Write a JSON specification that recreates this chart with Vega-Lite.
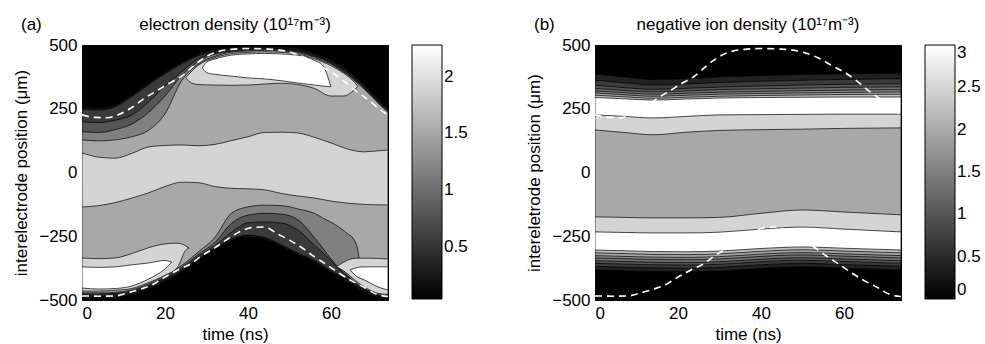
{
"$schema":"https://vega.github.io/schema/vega-lite/v6.json",
"background":"white",
"padding":{"left":12,"top":15,"right":0,"bottom":0},
"datasets":{
"aa":[
{"p":"a01","v":0.25,"t":0,"lo":-492,"hi":255},{"p":"a01","v":0.25,"t":4,"lo":-492,"hi":252},{"p":"a01","v":0.25,"t":8,"lo":-490,"hi":265},{"p":"a01","v":0.25,"t":12,"lo":-480,"hi":304},{"p":"a01","v":0.25,"t":16,"lo":-457,"hi":351},{"p":"a01","v":0.25,"t":20,"lo":-428,"hi":394},{"p":"a01","v":0.25,"t":24,"lo":-392,"hi":433},{"p":"a01","v":0.25,"t":28,"lo":-345,"hi":465},{"p":"a01","v":0.25,"t":32,"lo":-305,"hi":482},{"p":"a01","v":0.25,"t":36,"lo":-268,"hi":490},{"p":"a01","v":0.25,"t":40,"lo":-253,"hi":493},{"p":"a01","v":0.25,"t":44,"lo":-262,"hi":494},{"p":"a01","v":0.25,"t":48,"lo":-290,"hi":492},{"p":"a01","v":0.25,"t":52,"lo":-323,"hi":488},{"p":"a01","v":0.25,"t":56,"lo":-352,"hi":468},{"p":"a01","v":0.25,"t":60,"lo":-393,"hi":443},{"p":"a01","v":0.25,"t":62,"lo":-411,"hi":424},{"p":"a01","v":0.25,"t":64,"lo":-428,"hi":402},{"p":"a01","v":0.25,"t":66,"lo":-450,"hi":375},{"p":"a01","v":0.25,"t":68,"lo":-470,"hi":345},{"p":"a01","v":0.25,"t":70,"lo":-484,"hi":313},{"p":"a01","v":0.25,"t":72,"lo":-494,"hi":280},{"p":"a01","v":0.25,"t":73.75,"lo":-497,"hi":253},
{"p":"a02","v":0.55,"t":0,"lo":-485,"hi":248},{"p":"a02","v":0.55,"t":4,"lo":-485,"hi":245},{"p":"a02","v":0.55,"t":8,"lo":-483,"hi":258},{"p":"a02","v":0.55,"t":12,"lo":-473,"hi":297},{"p":"a02","v":0.55,"t":16,"lo":-450,"hi":344},{"p":"a02","v":0.55,"t":20,"lo":-421,"hi":387},{"p":"a02","v":0.55,"t":24,"lo":-385,"hi":426},{"p":"a02","v":0.55,"t":28,"lo":-338,"hi":458},{"p":"a02","v":0.55,"t":32,"lo":-298,"hi":475},{"p":"a02","v":0.55,"t":36,"lo":-261,"hi":483},{"p":"a02","v":0.55,"t":40,"lo":-246,"hi":486},{"p":"a02","v":0.55,"t":44,"lo":-255,"hi":487},{"p":"a02","v":0.55,"t":48,"lo":-283,"hi":485},{"p":"a02","v":0.55,"t":52,"lo":-316,"hi":481},{"p":"a02","v":0.55,"t":56,"lo":-345,"hi":461},{"p":"a02","v":0.55,"t":60,"lo":-386,"hi":436},{"p":"a02","v":0.55,"t":62,"lo":-404,"hi":417},{"p":"a02","v":0.55,"t":64,"lo":-421,"hi":395},{"p":"a02","v":0.55,"t":66,"lo":-443,"hi":368},{"p":"a02","v":0.55,"t":68,"lo":-463,"hi":338},{"p":"a02","v":0.55,"t":70,"lo":-477,"hi":306},{"p":"a02","v":0.55,"t":72,"lo":-487,"hi":273},{"p":"a02","v":0.55,"t":73.75,"lo":-490,"hi":246},
{"p":"a03","v":0.79,"t":0,"lo":-480,"hi":199},{"p":"a03","v":0.79,"t":4,"lo":-480,"hi":196},{"p":"a03","v":0.79,"t":8,"lo":-478,"hi":205},{"p":"a03","v":0.79,"t":12,"lo":-468,"hi":225},{"p":"a03","v":0.79,"t":16,"lo":-446,"hi":276},{"p":"a03","v":0.79,"t":20,"lo":-416,"hi":340},{"p":"a03","v":0.79,"t":24,"lo":-378,"hi":395},{"p":"a03","v":0.79,"t":28,"lo":-330,"hi":445},{"p":"a03","v":0.79,"t":32,"lo":-287,"hi":468},{"p":"a03","v":0.79,"t":36,"lo":-235,"hi":478},{"p":"a03","v":0.79,"t":40,"lo":-197,"hi":483},{"p":"a03","v":0.79,"t":44,"lo":-194,"hi":485},{"p":"a03","v":0.79,"t":48,"lo":-198,"hi":483},{"p":"a03","v":0.79,"t":52,"lo":-225,"hi":478},{"p":"a03","v":0.79,"t":56,"lo":-285,"hi":458},{"p":"a03","v":0.79,"t":60,"lo":-345,"hi":432},{"p":"a03","v":0.79,"t":62,"lo":-380,"hi":412},{"p":"a03","v":0.79,"t":64,"lo":-408,"hi":390},{"p":"a03","v":0.79,"t":66,"lo":-438,"hi":363},{"p":"a03","v":0.79,"t":68,"lo":-460,"hi":334},{"p":"a03","v":0.79,"t":70,"lo":-474,"hi":302},{"p":"a03","v":0.79,"t":72,"lo":-486,"hi":270},{"p":"a03","v":0.79,"t":73.75,"lo":-488,"hi":243},
{"p":"a04","v":1.16,"t":0,"lo":-476,"hi":160},{"p":"a04","v":1.16,"t":4,"lo":-476,"hi":157},{"p":"a04","v":1.16,"t":8,"lo":-474,"hi":168},{"p":"a04","v":1.16,"t":12,"lo":-464,"hi":190},{"p":"a04","v":1.16,"t":16,"lo":-442,"hi":235},{"p":"a04","v":1.16,"t":20,"lo":-412,"hi":300},{"p":"a04","v":1.16,"t":24,"lo":-372,"hi":380},{"p":"a04","v":1.16,"t":28,"lo":-322,"hi":435},{"p":"a04","v":1.16,"t":32,"lo":-275,"hi":464},{"p":"a04","v":1.16,"t":36,"lo":-200,"hi":475},{"p":"a04","v":1.16,"t":40,"lo":-167,"hi":480},{"p":"a04","v":1.16,"t":44,"lo":-160,"hi":482},{"p":"a04","v":1.16,"t":48,"lo":-163,"hi":480},{"p":"a04","v":1.16,"t":52,"lo":-185,"hi":474},{"p":"a04","v":1.16,"t":56,"lo":-255,"hi":455},{"p":"a04","v":1.16,"t":60,"lo":-338,"hi":428},{"p":"a04","v":1.16,"t":62,"lo":-376,"hi":408},{"p":"a04","v":1.16,"t":64,"lo":-404,"hi":386},{"p":"a04","v":1.16,"t":66,"lo":-434,"hi":359},{"p":"a04","v":1.16,"t":68,"lo":-456,"hi":330},{"p":"a04","v":1.16,"t":70,"lo":-471,"hi":298},{"p":"a04","v":1.16,"t":72,"lo":-483,"hi":266},{"p":"a04","v":1.16,"t":73.75,"lo":-485,"hi":239},
{"p":"a05","v":1.52,"t":0,"lo":-472,"hi":128},{"p":"a05","v":1.52,"t":4,"lo":-472,"hi":124},{"p":"a05","v":1.52,"t":8,"lo":-470,"hi":128},{"p":"a05","v":1.52,"t":12,"lo":-460,"hi":140},{"p":"a05","v":1.52,"t":16,"lo":-437,"hi":165},{"p":"a05","v":1.52,"t":20,"lo":-406,"hi":230},{"p":"a05","v":1.52,"t":24,"lo":-365,"hi":360},{"p":"a05","v":1.52,"t":28,"lo":-312,"hi":425},{"p":"a05","v":1.52,"t":32,"lo":-255,"hi":455},{"p":"a05","v":1.52,"t":36,"lo":-160,"hi":472},{"p":"a05","v":1.52,"t":40,"lo":-135,"hi":477},{"p":"a05","v":1.52,"t":44,"lo":-128,"hi":479},{"p":"a05","v":1.52,"t":48,"lo":-130,"hi":477},{"p":"a05","v":1.52,"t":50,"lo":-134,"hi":474},{"p":"a05","v":1.52,"t":52,"lo":-143,"hi":471},{"p":"a05","v":1.52,"t":54,"lo":-150,"hi":462},{"p":"a05","v":1.52,"t":56,"lo":-160,"hi":452},{"p":"a05","v":1.52,"t":58,"lo":-178,"hi":438},{"p":"a05","v":1.52,"t":60,"lo":-195,"hi":425},{"p":"a05","v":1.52,"t":62,"lo":-215,"hi":405},{"p":"a05","v":1.52,"t":64,"lo":-240,"hi":383},{"p":"a05","v":1.52,"t":65.5,"lo":-262,"hi":363},{"p":"a05","v":1.52,"t":66.5,"lo":-305,"hi":349},{"p":"a05","v":1.52,"t":67.3,"lo":-400,"hi":337},{"p":"a05","v":1.52,"t":68,"lo":-452,"hi":327},{"p":"a05","v":1.52,"t":70,"lo":-468,"hi":295},{"p":"a05","v":1.52,"t":72,"lo":-480,"hi":262},{"p":"a05","v":1.52,"t":73.75,"lo":-482,"hi":236},
{"p":"a07","v":1.9,"t":0,"lo":-135,"hi":77},{"p":"a07","v":1.9,"t":4,"lo":-130,"hi":60},{"p":"a07","v":1.9,"t":8,"lo":-118,"hi":56},{"p":"a07","v":1.9,"t":12,"lo":-100,"hi":75},{"p":"a07","v":1.9,"t":16,"lo":-80,"hi":100},{"p":"a07","v":1.9,"t":20,"lo":-55,"hi":106},{"p":"a07","v":1.9,"t":24,"lo":-38,"hi":108},{"p":"a07","v":1.9,"t":28,"lo":-40,"hi":105},{"p":"a07","v":1.9,"t":32,"lo":-55,"hi":110},{"p":"a07","v":1.9,"t":36,"lo":-62,"hi":125},{"p":"a07","v":1.9,"t":40,"lo":-64,"hi":140},{"p":"a07","v":1.9,"t":44,"lo":-68,"hi":157},{"p":"a07","v":1.9,"t":48,"lo":-82,"hi":158},{"p":"a07","v":1.9,"t":52,"lo":-92,"hi":155},{"p":"a07","v":1.9,"t":56,"lo":-100,"hi":138},{"p":"a07","v":1.9,"t":60,"lo":-112,"hi":116},{"p":"a07","v":1.9,"t":64,"lo":-120,"hi":92},{"p":"a07","v":1.9,"t":68,"lo":-125,"hi":81},{"p":"a07","v":1.9,"t":72,"lo":-127,"hi":86},{"p":"a07","v":1.9,"t":73.75,"lo":-127,"hi":88},
{"p":"a08","v":1.9,"t":25,"lo":372,"hi":372},{"p":"a08","v":1.9,"t":26,"lo":355,"hi":390},{"p":"a08","v":1.9,"t":28,"lo":345,"hi":420},{"p":"a08","v":1.9,"t":32,"lo":343,"hi":450},{"p":"a08","v":1.9,"t":36,"lo":342,"hi":466},{"p":"a08","v":1.9,"t":40,"lo":343,"hi":471},{"p":"a08","v":1.9,"t":44,"lo":347,"hi":473},{"p":"a08","v":1.9,"t":48,"lo":350,"hi":471},{"p":"a08","v":1.9,"t":52,"lo":345,"hi":465},{"p":"a08","v":1.9,"t":56,"lo":330,"hi":446},{"p":"a08","v":1.9,"t":60,"lo":300,"hi":419},{"p":"a08","v":1.9,"t":63,"lo":300,"hi":390},{"p":"a08","v":1.9,"t":65,"lo":315,"hi":365},{"p":"a08","v":1.9,"t":66.5,"lo":338,"hi":338},
{"p":"a09","v":1.9,"t":0,"lo":-465,"hi":-335},{"p":"a09","v":1.9,"t":4,"lo":-465,"hi":-338},{"p":"a09","v":1.9,"t":8,"lo":-462,"hi":-335},{"p":"a09","v":1.9,"t":12,"lo":-455,"hi":-318},{"p":"a09","v":1.9,"t":16,"lo":-432,"hi":-295},{"p":"a09","v":1.9,"t":20,"lo":-403,"hi":-280},{"p":"a09","v":1.9,"t":23,"lo":-372,"hi":-277},{"p":"a09","v":1.9,"t":25,"lo":-305,"hi":-288},{"p":"a09","v":1.9,"t":25.8,"lo":-296,"hi":-296},
{"p":"a10","v":1.9,"t":61.3,"lo":-370,"hi":-370},{"p":"a10","v":1.9,"t":63,"lo":-385,"hi":-352},{"p":"a10","v":1.9,"t":66,"lo":-425,"hi":-336},{"p":"a10","v":1.9,"t":69,"lo":-458,"hi":-336},{"p":"a10","v":1.9,"t":71.4,"lo":-474,"hi":-337},{"p":"a10","v":1.9,"t":73.75,"lo":-478,"hi":-339},
{"p":"a11","v":2.28,"t":29,"lo":410,"hi":410},{"p":"a11","v":2.28,"t":30,"lo":392,"hi":432},{"p":"a11","v":2.28,"t":32,"lo":385,"hi":445},{"p":"a11","v":2.28,"t":36,"lo":378,"hi":460},{"p":"a11","v":2.28,"t":40,"lo":371,"hi":465},{"p":"a11","v":2.28,"t":44,"lo":367,"hi":467},{"p":"a11","v":2.28,"t":48,"lo":360,"hi":465},{"p":"a11","v":2.28,"t":52,"lo":351,"hi":460},{"p":"a11","v":2.28,"t":56,"lo":343,"hi":440},{"p":"a11","v":2.28,"t":58,"lo":339,"hi":420},{"p":"a11","v":2.28,"t":60,"lo":336,"hi":336},
{"p":"a12","v":2.28,"t":0,"lo":-453,"hi":-370},{"p":"a12","v":2.28,"t":4,"lo":-457,"hi":-372},{"p":"a12","v":2.28,"t":8,"lo":-455,"hi":-370},{"p":"a12","v":2.28,"t":12,"lo":-445,"hi":-362},{"p":"a12","v":2.28,"t":16,"lo":-418,"hi":-355},{"p":"a12","v":2.28,"t":20,"lo":-378,"hi":-345},{"p":"a12","v":2.28,"t":21.6,"lo":-352,"hi":-352},
{"p":"a13","v":2.28,"t":64.6,"lo":-382,"hi":-382},{"p":"a13","v":2.28,"t":66,"lo":-405,"hi":-374},{"p":"a13","v":2.28,"t":68,"lo":-421,"hi":-370},{"p":"a13","v":2.28,"t":70,"lo":-438,"hi":-370},{"p":"a13","v":2.28,"t":72,"lo":-453,"hi":-370},{"p":"a13","v":2.28,"t":73.75,"lo":-460,"hi":-370}
],
"ba":[
{"p":"b01","v":0.4,"t":0,"lo":-382,"hi":386},{"p":"b01","v":0.4,"t":7,"lo":-385,"hi":375},{"p":"b01","v":0.4,"t":14,"lo":-388,"hi":365},{"p":"b01","v":0.4,"t":22,"lo":-389,"hi":368},{"p":"b01","v":0.4,"t":30,"lo":-386,"hi":375},{"p":"b01","v":0.4,"t":40,"lo":-376,"hi":380},{"p":"b01","v":0.4,"t":50,"lo":-370,"hi":384},{"p":"b01","v":0.4,"t":60,"lo":-375,"hi":387},{"p":"b01","v":0.4,"t":73.75,"lo":-382,"hi":390},
{"p":"b02","v":0.7,"t":0,"lo":-368,"hi":362},{"p":"b02","v":0.7,"t":7,"lo":-371,"hi":352},{"p":"b02","v":0.7,"t":14,"lo":-374,"hi":343},{"p":"b02","v":0.7,"t":22,"lo":-375,"hi":347},{"p":"b02","v":0.7,"t":30,"lo":-372,"hi":353},{"p":"b02","v":0.7,"t":40,"lo":-362,"hi":358},{"p":"b02","v":0.7,"t":50,"lo":-356,"hi":362},{"p":"b02","v":0.7,"t":60,"lo":-361,"hi":365},{"p":"b02","v":0.7,"t":73.75,"lo":-368,"hi":368},
{"p":"b03","v":1.0,"t":0,"lo":-356,"hi":342},{"p":"b03","v":1.0,"t":7,"lo":-359,"hi":333},{"p":"b03","v":1.0,"t":14,"lo":-362,"hi":326},{"p":"b03","v":1.0,"t":22,"lo":-363,"hi":330},{"p":"b03","v":1.0,"t":30,"lo":-360,"hi":335},{"p":"b03","v":1.0,"t":40,"lo":-350,"hi":339},{"p":"b03","v":1.0,"t":50,"lo":-344,"hi":343},{"p":"b03","v":1.0,"t":60,"lo":-349,"hi":346},{"p":"b03","v":1.0,"t":73.75,"lo":-356,"hi":348},
{"p":"b04","v":1.3,"t":0,"lo":-346,"hi":330},{"p":"b04","v":1.3,"t":7,"lo":-349,"hi":322},{"p":"b04","v":1.3,"t":14,"lo":-352,"hi":316},{"p":"b04","v":1.3,"t":22,"lo":-353,"hi":320},{"p":"b04","v":1.3,"t":30,"lo":-350,"hi":325},{"p":"b04","v":1.3,"t":40,"lo":-340,"hi":328},{"p":"b04","v":1.3,"t":50,"lo":-334,"hi":331},{"p":"b04","v":1.3,"t":60,"lo":-339,"hi":334},{"p":"b04","v":1.3,"t":73.75,"lo":-346,"hi":336},
{"p":"b05","v":1.6,"t":0,"lo":-335,"hi":320},{"p":"b05","v":1.6,"t":7,"lo":-338,"hi":313},{"p":"b05","v":1.6,"t":14,"lo":-341,"hi":307},{"p":"b05","v":1.6,"t":22,"lo":-342,"hi":311},{"p":"b05","v":1.6,"t":30,"lo":-339,"hi":315},{"p":"b05","v":1.6,"t":40,"lo":-329,"hi":318},{"p":"b05","v":1.6,"t":50,"lo":-323,"hi":321},{"p":"b05","v":1.6,"t":60,"lo":-328,"hi":323},{"p":"b05","v":1.6,"t":73.75,"lo":-335,"hi":325},
{"p":"b06","v":1.9,"t":0,"lo":-326,"hi":312},{"p":"b06","v":1.9,"t":7,"lo":-329,"hi":305},{"p":"b06","v":1.9,"t":14,"lo":-332,"hi":299},{"p":"b06","v":1.9,"t":22,"lo":-333,"hi":303},{"p":"b06","v":1.9,"t":30,"lo":-330,"hi":307},{"p":"b06","v":1.9,"t":40,"lo":-320,"hi":310},{"p":"b06","v":1.9,"t":50,"lo":-314,"hi":312},{"p":"b06","v":1.9,"t":60,"lo":-319,"hi":314},{"p":"b06","v":1.9,"t":73.75,"lo":-326,"hi":316},
{"p":"b07","v":2.25,"t":0,"lo":-315,"hi":303},{"p":"b07","v":2.25,"t":7,"lo":-318,"hi":297},{"p":"b07","v":2.25,"t":14,"lo":-321,"hi":291},{"p":"b07","v":2.25,"t":22,"lo":-322,"hi":295},{"p":"b07","v":2.25,"t":30,"lo":-319,"hi":299},{"p":"b07","v":2.25,"t":40,"lo":-309,"hi":302},{"p":"b07","v":2.25,"t":50,"lo":-303,"hi":304},{"p":"b07","v":2.25,"t":60,"lo":-308,"hi":306},{"p":"b07","v":2.25,"t":73.75,"lo":-315,"hi":307},
{"p":"b08","v":3.0,"t":0,"lo":-304,"hi":294},{"p":"b08","v":3.0,"t":7,"lo":-307,"hi":289},{"p":"b08","v":3.0,"t":14,"lo":-310,"hi":284},{"p":"b08","v":3.0,"t":22,"lo":-311,"hi":288},{"p":"b08","v":3.0,"t":30,"lo":-308,"hi":292},{"p":"b08","v":3.0,"t":40,"lo":-298,"hi":294},{"p":"b08","v":3.0,"t":50,"lo":-292,"hi":295},{"p":"b08","v":3.0,"t":60,"lo":-297,"hi":296},{"p":"b08","v":3.0,"t":73.75,"lo":-304,"hi":296},
{"p":"b09","v":2.5,"t":0,"lo":-233,"hi":226},{"p":"b09","v":2.5,"t":7,"lo":-235,"hi":220},{"p":"b09","v":2.5,"t":14,"lo":-237,"hi":214},{"p":"b09","v":2.5,"t":22,"lo":-237,"hi":220},{"p":"b09","v":2.5,"t":30,"lo":-234,"hi":226},{"p":"b09","v":2.5,"t":40,"lo":-222,"hi":227},{"p":"b09","v":2.5,"t":50,"lo":-214,"hi":228},{"p":"b09","v":2.5,"t":60,"lo":-222,"hi":229},{"p":"b09","v":2.5,"t":73.75,"lo":-233,"hi":229},
{"p":"b10","v":1.98,"t":0,"lo":-174,"hi":167},{"p":"b10","v":1.98,"t":7,"lo":-176,"hi":157},{"p":"b10","v":1.98,"t":14,"lo":-178,"hi":148},{"p":"b10","v":1.98,"t":22,"lo":-178,"hi":158},{"p":"b10","v":1.98,"t":30,"lo":-176,"hi":165},{"p":"b10","v":1.98,"t":40,"lo":-160,"hi":168},{"p":"b10","v":1.98,"t":50,"lo":-147,"hi":170},{"p":"b10","v":1.98,"t":60,"lo":-155,"hi":173},{"p":"b10","v":1.98,"t":73.75,"lo":-166,"hi":175}
],
"sh":[
{"e":"up","t":0,"y":226},{"e":"up","t":3,"y":216},{"e":"up","t":6,"y":215},{"e":"up","t":9,"y":228},{"e":"up","t":12,"y":255},{"e":"up","t":15,"y":290},{"e":"up","t":18,"y":320},{"e":"up","t":21,"y":350},{"e":"up","t":24,"y":378},{"e":"up","t":27,"y":420},{"e":"up","t":30,"y":455},{"e":"up","t":33,"y":475},{"e":"up","t":36,"y":483},{"e":"up","t":40,"y":486},{"e":"up","t":45,"y":484},{"e":"up","t":50,"y":472},{"e":"up","t":54,"y":448},{"e":"up","t":57,"y":420},{"e":"up","t":60,"y":394},{"e":"up","t":63,"y":360},{"e":"up","t":66,"y":320},{"e":"up","t":69,"y":285},{"e":"up","t":72,"y":245},{"e":"up","t":73.75,"y":226},
{"e":"lo","t":0,"y":-484},{"e":"lo","t":4,"y":-485},{"e":"lo","t":8,"y":-484},{"e":"lo","t":11,"y":-472},{"e":"lo","t":14,"y":-458},{"e":"lo","t":17,"y":-440},{"e":"lo","t":20,"y":-410},{"e":"lo","t":23,"y":-383},{"e":"lo","t":26,"y":-360},{"e":"lo","t":29,"y":-325},{"e":"lo","t":32,"y":-295},{"e":"lo","t":35,"y":-262},{"e":"lo","t":38,"y":-232},{"e":"lo","t":41,"y":-216},{"e":"lo","t":44,"y":-214},{"e":"lo","t":47,"y":-240},{"e":"lo","t":50,"y":-265},{"e":"lo","t":53,"y":-295},{"e":"lo","t":56,"y":-330},{"e":"lo","t":59,"y":-362},{"e":"lo","t":62,"y":-395},{"e":"lo","t":65,"y":-425},{"e":"lo","t":68,"y":-450},{"e":"lo","t":71,"y":-478},{"e":"lo","t":73.75,"y":-486}
]
},
"hconcat":[
{
"width":306,"height":255,
"title":{"text":"electron density (10¹⁷m⁻³)","offset":0,"dy":18},
"resolve":{"axis":{"x":"independent","y":"independent"}},
"layer":[
{"data":{"name":"aa"},
"mark":{"type":"area","interpolate":"monotone","stroke":"black","strokeWidth":0.7,"clip":true},
"encoding":{
"x":{"field":"t","type":"quantitative","scale":{"domain":[0,73.75],"nice":false,"zero":false},"axis":{"values":[0,20,40,60],"title":"time (ns)","titlePadding":5}},
"y":{"field":"hi","type":"quantitative","scale":{"domain":[-500,500],"nice":false,"zero":false},"axis":{"values":[-500,-250,0,250,500],"title":"interelectrode position (μm)","titlePadding":8}},
"y2":{"field":"lo"},
"color":{"field":"v","type":"quantitative","scale":{"domain":[0.04,2.28],"range":["black","white"],"interpolate":"rgb"},"legend":{"title":null,"values":[0.5,1,1.5,2],"format":".1~f"}},
"detail":{"field":"p"}
}},
{"data":{"name":"sh"},
"mark":{"type":"line","interpolate":"monotone","color":"white","strokeDash":[7,5],"strokeWidth":1.6,"clip":true},
"encoding":{"x":{"field":"t","type":"quantitative","axis":{"orient":"top","values":[0,20,40,60],"labels":false,"title":null}},"y":{"field":"y","type":"quantitative","axis":{"orient":"right","values":[-500,-250,0,250,500],"labels":false,"title":null}},"detail":{"field":"e"}}},
{"data":{"values":[{}]},
"mark":{"type":"text","text":"(a)","align":"left","baseline":"middle","fontSize":17,"font":"Liberation Sans"},
"encoding":{"x":{"datum":-14.7,"type":"quantitative","axis":null},"y":{"datum":578,"type":"quantitative","axis":null}}}
]
},
{
"width":306,"height":255,
"title":{"text":"negative ion density (10¹⁷m⁻³)","offset":0,"dy":18},
"resolve":{"axis":{"x":"independent","y":"independent"}},
"layer":[
{"data":{"name":"ba"},
"mark":{"type":"area","interpolate":"monotone","stroke":"black","strokeWidth":0.7,"clip":true},
"encoding":{
"x":{"field":"t","type":"quantitative","scale":{"domain":[0,73.75],"nice":false,"zero":false},"axis":{"values":[0,20,40,60],"title":"time (ns)","titlePadding":5}},
"y":{"field":"hi","type":"quantitative","scale":{"domain":[-500,500],"nice":false,"zero":false},"axis":{"values":[-500,-250,0,250,500],"title":"intereletrode position (μm)","titlePadding":8}},
"y2":{"field":"lo"},
"color":{"field":"v","type":"quantitative","scale":{"domain":[0,3],"range":["black","white"],"interpolate":"rgb"},"legend":{"title":null,"values":[0,0.5,1,1.5,2,2.5,3],"format":".1~f"}},
"detail":{"field":"p"}
}},
{"data":{"name":"sh"},
"mark":{"type":"line","interpolate":"monotone","color":"white","strokeDash":[7,5],"strokeWidth":1.6,"clip":true},
"encoding":{"x":{"field":"t","type":"quantitative","axis":{"orient":"top","values":[0,20,40,60],"labels":false,"title":null}},"y":{"field":"y","type":"quantitative","axis":{"orient":"right","values":[-500,-250,0,250,500],"labels":false,"title":null}},"detail":{"field":"e"}}},
{"data":{"values":[{}]},
"mark":{"type":"text","text":"(b)","align":"left","baseline":"middle","fontSize":17,"font":"Liberation Sans"},
"encoding":{"x":{"datum":-14.7,"type":"quantitative","axis":null},"y":{"datum":578,"type":"quantitative","axis":null}}}
]
}
],
"spacing":207,
"bounds":"flush",
"resolve":{"scale":{"color":"independent"}},
"config":{
"font":"Liberation Sans",
"view":{"stroke":"black","strokeWidth":1,"fill":"black"},
"axis":{"labelFontSize":17,"titleFontSize":17,"titleFontWeight":"normal","labelColor":"black","titleColor":"black","domain":false,"grid":false,"tickColor":"black","tickSize":-5,"labelPadding":10,"titlePadding":5,"labelFont":"Liberation Sans","titleFont":"Liberation Sans"},
"title":{"fontSize":17,"fontWeight":"normal","color":"black","font":"Liberation Sans"},
"legend":{"gradientLength":254,"gradientThickness":30,"gradientStrokeColor":"black","gradientStrokeWidth":1,"labelFontSize":17,"labelColor":"black","labelFont":"Liberation Sans","offset":23,"padding":0,"labelOverlap":false,"direction":"vertical"}
}
}
